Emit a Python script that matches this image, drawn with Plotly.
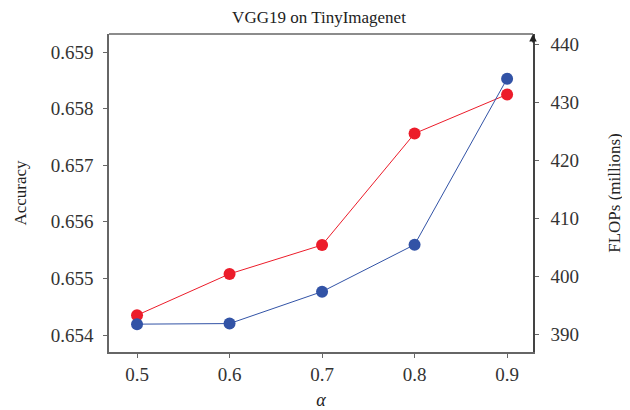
import plotly.graph_objects as go

alpha = [0.5, 0.6, 0.7, 0.8, 0.9]
accuracy = [0.65435, 0.65508, 0.65559, 0.65756, 0.65825]
flops = [391.8, 391.9, 397.4, 405.5, 434.1]

x_ticks = [0.5, 0.6, 0.7, 0.8, 0.9]
acc_ticks = [0.654, 0.655, 0.656, 0.657, 0.658, 0.659]
flops_ticks = [390, 400, 410, 420, 430, 440]

RED = "#ec1c2a"
BLUE = "#3253a6"
AX = "#666666"
SERIF = "Liberation Serif"

# page body adds an 8px margin, so the figure is 8px smaller than the window
W, H = 622, 402

fig = go.Figure()
fig.add_trace(go.Scatter(x=alpha, y=accuracy, mode="lines+markers",
                         line=dict(color=RED, width=1),
                         marker=dict(color=RED, size=12), yaxis="y",
                         showlegend=False))
fig.add_trace(go.Scatter(x=alpha, y=flops, mode="lines+markers",
                         line=dict(color=BLUE, width=1),
                         marker=dict(color=BLUE, size=12), yaxis="y2",
                         showlegend=False))

fig.update_layout(
    width=W, height=H,
    margin=dict(l=101, r=97, t=26, b=58),
    paper_bgcolor="white", plot_bgcolor="white",
    font=dict(family=SERIF, size=19, color="#333333"),
    title=dict(text="VGG19 on TinyImagenet", x=0.5, xanchor="center",
               y=1 - 3 / H, yanchor="top", pad=dict(t=0, b=0),
               font=dict(family=SERIF, size=17, color="#222222")),
    xaxis=dict(range=[0.4697, 0.928], tickvals=x_ticks,
               ticktext=[f"{v:.1f}" for v in x_ticks],
               automargin=False,
               showgrid=False, zeroline=False,
               showline=True, linecolor=AX, linewidth=1.5, mirror=False,
               ticks="outside", ticklen=4, tickcolor=AX,
               tickfont=dict(family=SERIF, size=19, color="#333333"),
               title=dict(text="<i>α</i>", standoff=10,
                          font=dict(family=SERIF, size=18, color="#222222"))),
    yaxis=dict(range=[0.653700, 0.659318], tickvals=acc_ticks,
               ticktext=[f"{v:.3f}" for v in acc_ticks],
               automargin=False,
               showgrid=False, zeroline=False,
               showline=True, linecolor=AX, linewidth=1.5,
               ticks="outside", ticklen=4, tickcolor=AX,
               ticklabelstandoff=6,
               tickfont=dict(family=SERIF, size=19, color="#333333"),
               title=dict(text="Accuracy", standoff=20,
                          font=dict(family=SERIF, size=17, color="#222222"))),
    yaxis2=dict(range=[387.0, 441.8], tickvals=flops_ticks,
                ticktext=[str(v) for v in flops_ticks],
                overlaying="y", side="right",
                automargin=False,
                showgrid=False, zeroline=False,
                showline=True, linecolor="#444444", linewidth=1.5,
                ticks="outside", ticklen=4, tickcolor=AX,
                ticklabelstandoff=8,
                tickfont=dict(family=SERIF, size=19, color="#333333"),
                title=dict(text="FLOPs (millions)", standoff=30,
                           font=dict(family=SERIF, size=17, color="#222222"))),
    shapes=[dict(type="line", xref="paper", yref="paper", x0=0, x1=1, y0=1, y1=1,
                 line=dict(color=AX, width=1.5))],
    annotations=[dict(x=1, y=1, xref="paper", yref="paper", text="",
                      showarrow=True, ax=0, ay=10, axref="pixel", ayref="pixel",
                      arrowhead=2, arrowsize=1, arrowwidth=1.5,
                      arrowcolor="#222222")],
)

fig.write_html("out.html")
